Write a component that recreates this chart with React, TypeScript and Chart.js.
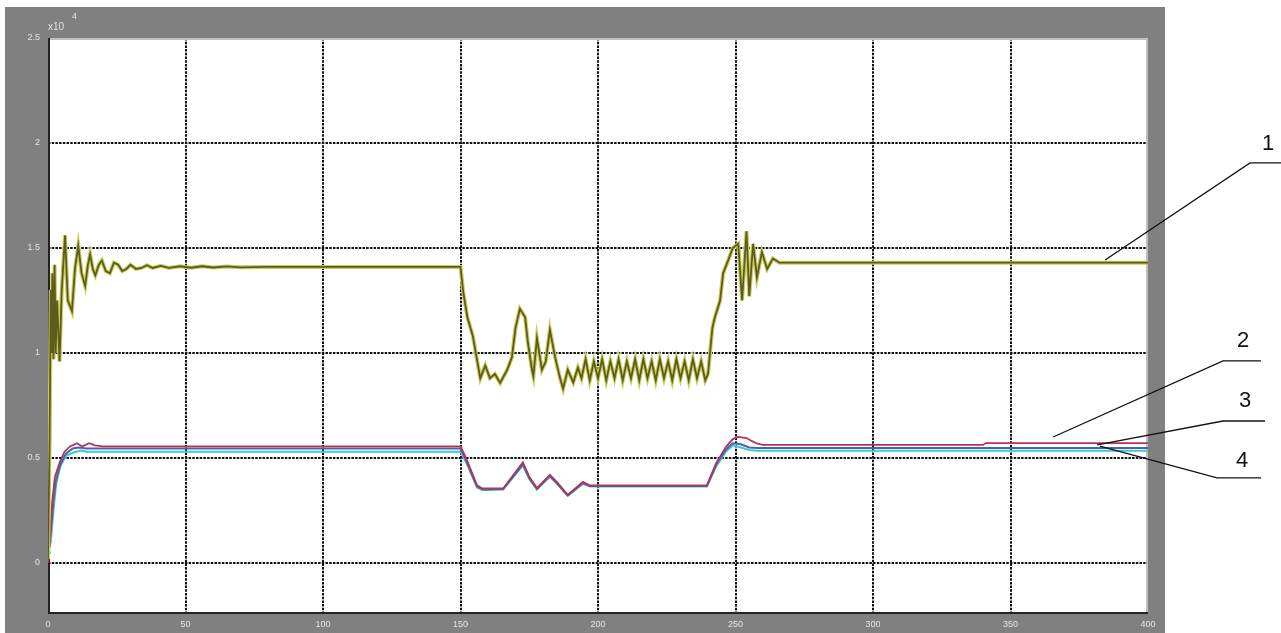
import { useEffect, useRef } from "react";
import { Chart, registerables } from "chart.js";

Chart.register(...registerables);

// ---- axis ticks (values are in units of 10^4) ----
const xTickValues = [0, 50, 100, 150, 200, 250, 300, 350, 400];
const yTickValues = [0, 0.5, 1, 1.5, 2, 2.5];
const xRange = [0, 400];
const yRange = [-0.243, 2.5];

// ---- curve 1 ----
const curve1Time = [
  0, 0.6, 1.0, 1.3, 1.6, 2.0, 2.4, 2.8, 3.3, 4.2, 5.0, 6.2, 7.2, 8.7, 9.8, 11, 12.2, 13.5, 14.5, 15.3,
  16.3, 17.2, 18.5, 19.6, 21, 22.5, 24, 25.5, 27, 28.5, 30, 32, 34, 36, 38, 41, 44, 48, 52, 56, 60, 65,
  70, 80, 150,
  151, 152.5, 154.5, 156.5, 157.2, 159, 160.7, 162.5, 164.4, 167, 168.7, 170, 171.6, 173.5, 174.5, 176,
  176.5, 177.8, 179.6, 181, 182.5, 184.4, 186, 187.3, 189, 191, 192.7,
  194, 195.5, 197, 198.5, 200, 201.5, 203, 204.5, 206, 207.5, 209, 210.5, 212, 213.5, 215, 216.5, 218,
  219.5, 221, 222.5, 224, 225.5, 227, 228.5, 230, 231.5, 233, 234.5, 236, 237.5, 239, 240,
  240.8, 241.6, 242.5, 244.4, 245.5, 247.3, 249, 251, 252.4, 254, 255, 256.4, 257.8, 259.6, 261.5,
  263.6, 266, 400,
];
const curve1Value = [
  0.02, 0.6, 1.3, 1.0, 1.38, 0.97, 1.42, 1.0, 1.25, 0.96, 1.3, 1.56, 1.25, 1.2, 1.4, 1.51, 1.38, 1.32, 1.42, 1.47,
  1.4, 1.37, 1.42, 1.44, 1.39, 1.38, 1.43, 1.42, 1.39, 1.4, 1.42, 1.4, 1.405, 1.418, 1.405, 1.415, 1.405, 1.413, 1.406, 1.413, 1.407, 1.412,
  1.408, 1.41, 1.41,
  1.29, 1.17, 1.08, 0.93, 0.88, 0.94, 0.88, 0.9, 0.857, 0.92, 0.98, 1.12, 1.21, 1.17, 1.05, 0.92,
  0.89, 1.07, 0.92, 0.96, 1.11, 0.98, 0.89, 0.83, 0.92, 0.86, 0.93,
  0.88, 0.97, 0.87, 0.96, 0.88, 0.97, 0.87, 0.96, 0.88, 0.97, 0.87, 0.96, 0.88, 0.97, 0.87, 0.97, 0.88,
  0.96, 0.87, 0.97, 0.88, 0.96, 0.87, 0.97, 0.88, 0.96, 0.87, 0.97, 0.88, 0.96, 0.87, 0.9,
  1.01, 1.12, 1.17, 1.25, 1.38, 1.44, 1.5, 1.52, 1.25, 1.58, 1.27, 1.52, 1.36, 1.48, 1.4,
  1.45, 1.43, 1.43,
];

// ---- curve 2 ----
const curve2Time = [
  0, 0.8, 1.5, 2.5, 4.3, 6, 8, 10.5, 12.5, 15, 17, 20, 150, 152, 156, 158, 165.5, 172.7, 175, 177.8,
  182.5, 185, 189, 194.5, 197, 239.6, 243, 246.5, 249, 251, 254, 256, 258, 260, 340, 341, 400,
];
const curve2Value = [
  0.0, 0.12, 0.29, 0.41, 0.48, 0.53, 0.555, 0.57, 0.555, 0.57, 0.56, 0.555, 0.555, 0.5, 0.37, 0.355, 0.355, 0.48, 0.41, 0.357,
  0.42, 0.386, 0.324, 0.386, 0.37, 0.37, 0.476, 0.552, 0.59, 0.6, 0.595, 0.58, 0.568, 0.562, 0.562, 0.571, 0.571,
];

// ---- curve 3 ----
const curve3Time = [
  0, 1, 2, 3, 4.5, 6.5, 9, 11, 14, 18, 150, 152, 156, 158, 165.5, 172.7, 175, 177.8,
  182.5, 185, 189, 194.5, 197, 239.6, 243, 246.5, 249, 252, 255, 258, 400,
];
const curve3Value = [
  0.02, 0.15, 0.3, 0.4, 0.47, 0.52, 0.545, 0.55, 0.545, 0.545, 0.545, 0.49, 0.365, 0.35, 0.352, 0.47, 0.405, 0.352,
  0.415, 0.38, 0.322, 0.38, 0.366, 0.366, 0.47, 0.54, 0.57, 0.565, 0.55, 0.548, 0.548,
];

// ---- curve 4 ----
const curve4Time = [
  0, 1, 2, 3, 4.5, 6.5, 9, 12, 14, 150, 152, 156, 158, 165.5, 172.7, 175, 177.8,
  182.5, 185, 189, 194.5, 197, 239.6, 243, 246.5, 249, 252, 255, 258, 400,
];
const curve4Value = [
  0.05, 0.1, 0.25, 0.38, 0.46, 0.51, 0.525, 0.535, 0.53, 0.53, 0.48, 0.36, 0.348, 0.35, 0.465, 0.4, 0.35,
  0.41, 0.378, 0.32, 0.378, 0.364, 0.364, 0.46, 0.53, 0.56, 0.55, 0.538, 0.535, 0.535,
];

const curveLabels = ["1", "2", "3", "4"];

const toPoints = (t: number[], v: number[]) => t.map((x, i) => ({ x, y: v[i] }));

// Leader lines from a point near each curve to its numbered label outside the frame.
// anchor = data coordinates, elbow/end x = offset from the plot's right edge, elbow y in data units.
const callouts = [
  { label: "1", at: [384.4, 1.443], elbowDx: 102, elbowY: 1.905, endDx: 135, textDx: 120, textDy: -19 },
  { label: "2", at: [365.5, 0.6], elbowDx: 75, elbowY: 0.962, endDx: 113, textDx: 95, textDy: -20 },
  { label: "3", at: [381.5, 0.562], elbowDx: 75, elbowY: 0.676, endDx: 117, textDx: 97, textDy: -20 },
  { label: "4", at: [382.5, 0.557], elbowDx: 69, elbowY: 0.405, endDx: 113, textDx: 94, textDy: -17 },
];

const FRAME_GRAY = "#808080";
const LABEL_TEXT = "#e2e2e2";

const framePlugin = {
  id: "frame",
  beforeDraw(chart: any) {
    const { ctx, chartArea: a, width, height } = chart;
    ctx.save();
    ctx.fillStyle = "#ffffff";
    ctx.fillRect(0, 0, width, height);
    ctx.fillStyle = FRAME_GRAY;
    ctx.fillRect(5, 7, 1160, height - 7);
    ctx.fillStyle = "#ffffff";
    ctx.fillRect(a.left, a.top, a.right - a.left, a.bottom - a.top);
    ctx.restore();
  },
  beforeDatasetsDraw(chart: any) {
    const { ctx, chartArea: a, scales } = chart;
    const xs = scales.x;
    const ys = scales.y;
    ctx.save();
    ctx.strokeStyle = "#111111";
    ctx.lineWidth = 2;
    ctx.setLineDash([2.5, 1.2]);
    xTickValues.forEach((v) => {
      if (v === xRange[0] || v === xRange[1]) return;
      const px = Math.round(xs.getPixelForValue(v));
      ctx.beginPath();
      ctx.moveTo(px, a.top);
      ctx.lineTo(px, a.bottom);
      ctx.stroke();
    });
    yTickValues.forEach((v) => {
      if (v === yRange[1]) return;
      const py = Math.round(ys.getPixelForValue(v));
      ctx.beginPath();
      ctx.moveTo(a.left, py);
      ctx.lineTo(a.right, py);
      ctx.stroke();
    });
    ctx.setLineDash([]);
    // box: light top/right, dark left/bottom
    ctx.strokeStyle = "#bdbdbd";
    ctx.lineWidth = 2;
    ctx.beginPath();
    ctx.moveTo(a.left, a.top + 1);
    ctx.lineTo(a.right - 1, a.top + 1);
    ctx.lineTo(a.right - 1, a.bottom);
    ctx.stroke();
    ctx.strokeStyle = "#222222";
    ctx.beginPath();
    ctx.moveTo(a.left + 1, a.top);
    ctx.lineTo(a.left + 1, a.bottom - 1);
    ctx.lineTo(a.right, a.bottom - 1);
    ctx.stroke();
    ctx.restore();
  },
  afterDraw(chart: any) {
    const { ctx, chartArea: a, scales } = chart;
    const xs = scales.x;
    const ys = scales.y;
    ctx.save();
    // exponent marker of the value axis
    ctx.fillStyle = LABEL_TEXT;
    ctx.font = "10px 'Liberation Sans', Arial, sans-serif";
    ctx.textBaseline = "alphabetic";
    ctx.textAlign = "left";
    ctx.fillText("x10", a.left, a.top - 8);
    ctx.font = "9px 'Liberation Sans', Arial, sans-serif";
    ctx.fillText("4", a.left + 24, a.top - 19);

    // numbered callouts
    ctx.strokeStyle = "#111111";
    ctx.lineWidth = 1.3;
    ctx.fillStyle = "#111111";
    ctx.font = "22px 'Liberation Sans', Arial, sans-serif";
    ctx.textAlign = "center";
    ctx.textBaseline = "middle";
    callouts.forEach((c) => {
      const x0 = xs.getPixelForValue(c.at[0]);
      const y0 = ys.getPixelForValue(c.at[1]);
      const ex = a.right + c.elbowDx;
      const ey = ys.getPixelForValue(c.elbowY);
      ctx.beginPath();
      ctx.moveTo(x0, y0);
      ctx.lineTo(ex, ey);
      ctx.lineTo(a.right + c.endDx, ey);
      ctx.stroke();
      ctx.fillText(c.label, a.right + c.textDx, ey + c.textDy);
    });
    ctx.restore();
  },
};

export default function App() {
  const canvasRef = useRef<HTMLCanvasElement | null>(null);

  useEffect(() => {
    const canvas = canvasRef.current;
    if (!canvas) return;
    const line = (label: string, t: number[], v: number[], color: string, width: number, extra: any = {}) => ({
      label,
      data: toPoints(t, v),
      borderColor: color,
      backgroundColor: color,
      borderWidth: width,
      pointRadius: 0,
      tension: 0,
      fill: false,
      ...extra,
    });

    // Chart.js paints the first dataset last, so the list runs from top layer to bottom layer.
    const chart = new Chart(canvas, {
      type: "line",
      data: {
        datasets: [
          // curve 1: dark olive core over a yellow rim
          line(curveLabels[0], curve1Time, curve1Value, "#5c5c1c", 1.8),
          line(curveLabels[0], curve1Time, curve1Value, "#cbcb5e", 4),
          line(curveLabels[1], curve2Time, curve2Value, "#b83258", 1.8),
          line(curveLabels[2], curve3Time, curve3Value, "#4a64ac", 2),
          line(curveLabels[3], curve4Time, curve4Value, "#3fc7d4", 2, {
            pointRadius: (c: any) => (c.dataIndex === 0 ? 3 : 0),
            pointBackgroundColor: "#3fe0d0",
            pointBorderWidth: 0,
          }),
        ],
      },
      options: {
        responsive: false,
        animation: false,
        devicePixelRatio: 1,
        layout: { padding: { left: 0, top: 38, right: 133, bottom: 0 } },
        plugins: { legend: { display: false }, tooltip: { enabled: false } },
        scales: {
          x: {
            type: "linear",
            min: xRange[0],
            max: xRange[1],
            grid: { display: false, drawTicks: false },
            border: { display: false },
            afterBuildTicks: (s: any) => {
              s.ticks = xTickValues.map((value) => ({ value }));
            },
            afterFit: (s: any) => {
              s.height = 19;
            },
            ticks: {
              color: LABEL_TEXT,
              padding: 5,
              maxRotation: 0,
              autoSkip: false,
              font: { family: "'Liberation Sans', Arial, sans-serif", size: 9 },
              callback: (v: any) => String(v),
            },
          },
          y: {
            type: "linear",
            min: yRange[0],
            max: yRange[1],
            grid: { display: false, drawTicks: false },
            border: { display: false },
            afterBuildTicks: (s: any) => {
              s.ticks = yTickValues.map((value) => ({ value }));
            },
            afterFit: (s: any) => {
              s.width = 48;
            },
            ticks: {
              color: LABEL_TEXT,
              padding: 8,
              autoSkip: false,
              font: { family: "'Liberation Sans', Arial, sans-serif", size: 9 },
              callback: (v: any) => String(v),
            },
          },
        },
      },
      plugins: [framePlugin],
    } as any);
    return () => chart.destroy();
  }, []);

  return (
    <div style={{ position: "fixed", left: 0, top: 0, width: 1281, height: 633, background: "#fff" }}>
      <canvas ref={canvasRef} width={1281} height={633} style={{ display: "block" }} />
    </div>
  );
}
